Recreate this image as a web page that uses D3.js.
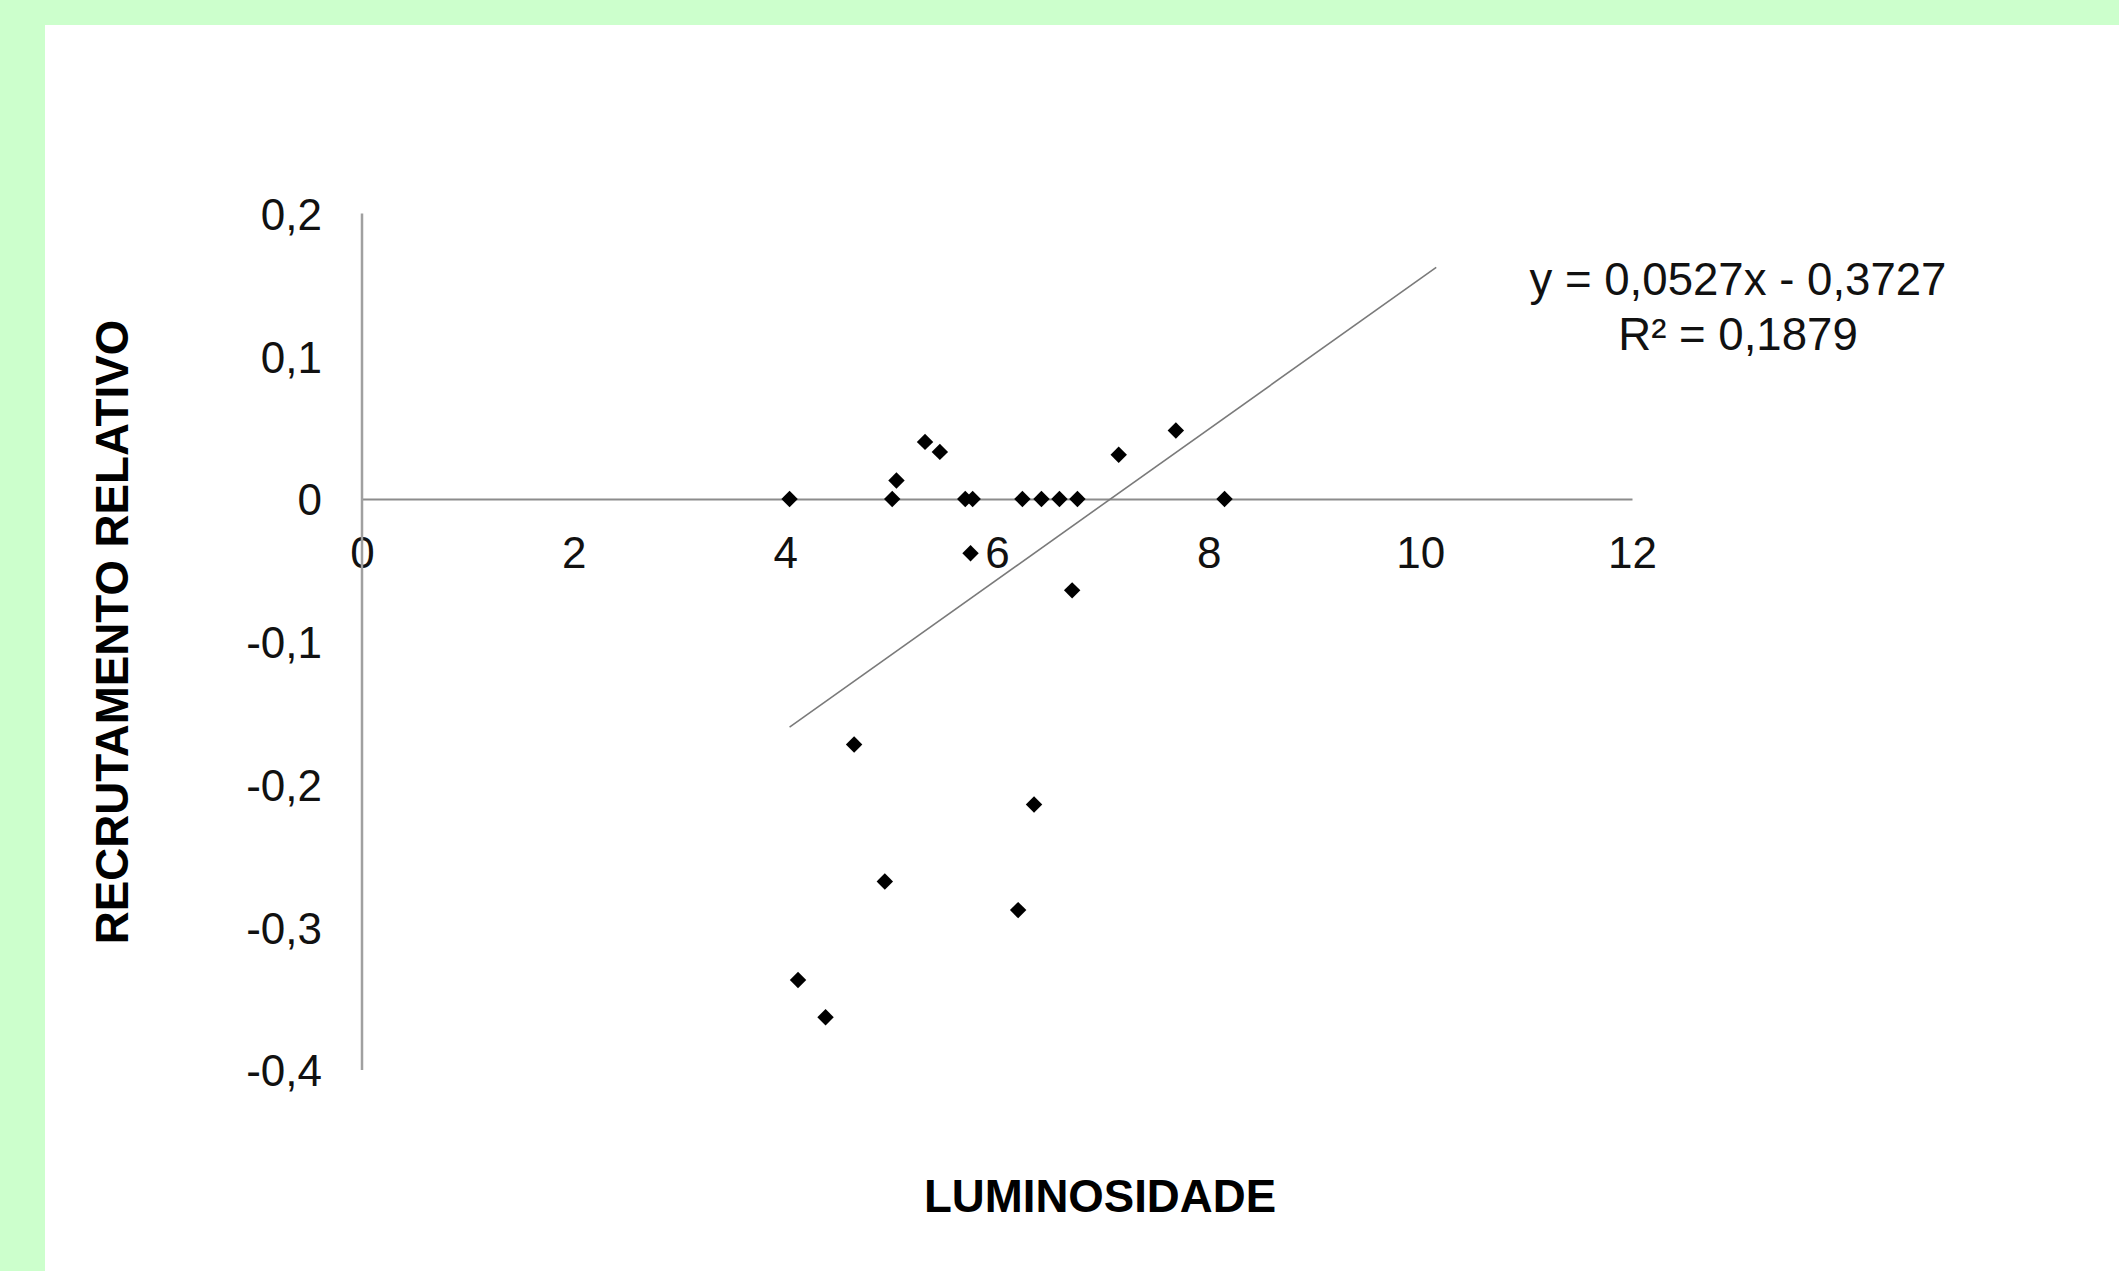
<!DOCTYPE html>
<html>
<head>
<meta charset="utf-8">
<script src="https://cdn.jsdelivr.net/npm/d3@7"></script>
<style>
  html, body { margin: 0; padding: 0; background: #ccffcc; }
  svg { display: block; }
  text { font-family: "Liberation Sans", Arial, sans-serif; }
</style>
</head>
<body>
<svg id="chart" width="2119" height="1271"></svg>
<script>
// ---- data ----
const luminosidade = [4.04, 4.12, 4.38, 4.65, 4.94, 5.01, 5.05, 5.32, 5.46, 5.70, 5.75,
                      5.77, 6.20, 6.24, 6.35, 6.42, 6.59, 6.71, 6.76, 7.15, 7.69, 8.15];
const recrutamento = [0, -0.337, -0.363, -0.172, -0.268, 0, 0.013, 0.040, 0.033, 0, -0.038,
                      0, -0.288, 0, -0.214, 0, 0, -0.064, 0, 0.031, 0.048, 0];
const xTickValues = [0, 2, 4, 6, 8, 10, 12];
const xTickLabels = ["0", "2", "4", "6", "8", "10", "12"];
const yTickValues = [0.2, 0.1, 0, -0.1, -0.2, -0.3, -0.4];
const yTickLabels = ["0,2", "0,1", "0", "-0,1", "-0,2", "-0,3", "-0,4"];
const trendCoef = [0.0527, -0.3727];        // slope, intercept
const trendRange = [4.04, 10.15];            // data min to forecast end
const equationLines = ["y = 0,0527x - 0,3727", "R² = 0,1879"];
const xTitle = "LUMINOSIDADE";
const yTitle = "RECRUTAMENTO RELATIVO";

// ---- layout ----
const svg = d3.select("#chart");
svg.append("rect").attr("x", 45).attr("y", 25).attr("width", 2119 - 45).attr("height", 1271 - 25).attr("fill", "#ffffff");

const x = d3.scaleLinear().domain([0, 12]).range([362, 1632]);
const y = d3.scaleLinear().domain([-0.4, 0.2]).range([1070, 213.5]);

// y axis
const yAxis = d3.axisLeft(y)
  .tickValues(yTickValues)
  .tickFormat((d, i) => yTickLabels[i])
  .tickSize(0).tickSizeOuter(0).tickPadding(40);
const gy = svg.append("g").attr("transform", `translate(${x(0)},0)`).call(yAxis);
gy.selectAll("text").attr("font-size", 44).attr("fill", "#111").attr("dy", "0.36em")
  .style("font-family", '"Liberation Sans", Arial, sans-serif');
gy.select(".domain").remove();

// x axis
const xAxis = d3.axisBottom(x)
  .tickValues(xTickValues)
  .tickFormat((d, i) => xTickLabels[i])
  .tickSize(0).tickSizeOuter(0).tickPadding(38);
const gx = svg.append("g").attr("transform", `translate(0,${y(0)})`).call(xAxis);
gx.selectAll("text").attr("font-size", 44).attr("fill", "#111")
  .style("font-family", '"Liberation Sans", Arial, sans-serif');
gx.select(".domain").attr("stroke", "#8c8c8c").attr("stroke-width", 2);

// y axis line drawn on top of labels
svg.append("line")
  .attr("x1", x(0)).attr("x2", x(0))
  .attr("y1", y(0.2)).attr("y2", y(-0.4))
  .attr("stroke", "#a0a0a0").attr("stroke-width", 2.5);

// trendline
svg.append("line")
  .attr("x1", x(trendRange[0])).attr("y1", y(trendCoef[0] * trendRange[0] + trendCoef[1]))
  .attr("x2", x(trendRange[1])).attr("y2", y(trendCoef[0] * trendRange[1] + trendCoef[1]))
  .attr("stroke", "#7a7a7a").attr("stroke-width", 1.6);

// points (diamonds)
const diamond = d3.symbol().type(d3.symbolSquare).size(135);
svg.append("g").selectAll("path")
  .data(luminosidade.map((v, i) => [v, recrutamento[i]]))
  .join("path")
  .attr("d", diamond)
  .attr("transform", d => `translate(${x(d[0])},${y(d[1])}) rotate(45)`)
  .attr("fill", "#000");

// equation
svg.append("g").selectAll("text")
  .data(equationLines)
  .join("text")
  .attr("x", 1738)
  .attr("y", (d, i) => 295 + i * 55)
  .attr("text-anchor", "middle")
  .attr("font-size", 45.6)
  .attr("fill", "#111")
  .text(d => d);

// axis titles
svg.append("text")
  .attr("x", 1100).attr("y", 1212)
  .attr("text-anchor", "middle")
  .attr("font-size", 45.6).attr("font-weight", "bold")
  .attr("fill", "#000")
  .text(xTitle);

svg.append("text")
  .attr("transform", "translate(128,632) rotate(-90)")
  .attr("text-anchor", "middle")
  .attr("font-size", 45.7).attr("font-weight", "bold")
  .attr("fill", "#000")
  .text(yTitle);
</script>
</body>
</html>
